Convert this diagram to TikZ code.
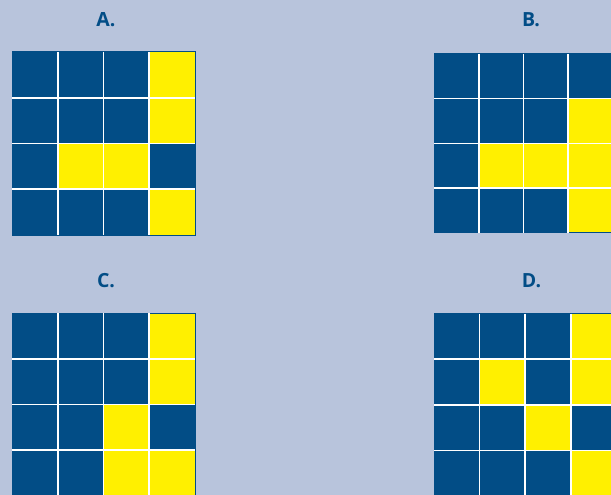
\documentclass[tikz,border=0pt]{standalone}
\usepackage{fontspec}
\setmainfont{Open Sans}
\definecolor{bg}{HTML}{B8C4DC}
\definecolor{navy}{HTML}{024D86}
\definecolor{yel}{HTML}{FFF000}
\newcommand\drawgrid[4]{%
  \fill[navy] (#1,#2) rectangle ++(4*#3,4*#3);
  \foreach \r/\c in {#4} {\fill[yel] ({#1+(\c-1)*#3},{#2+(\r-1)*#3}) rectangle ++(#3,#3);}
  \draw[navy,line width=1pt] (#1,#2) rectangle ++(4*#3,4*#3);
  \foreach \i in {1,2,3} {
    \draw[gridline] ({#1+\i*#3},#2) -- ++(0,4*#3);
    \draw[gridline] (#1,{#2+\i*#3}) -- ++(4*#3,0);
  }%
}
\tikzset{
  gridline/.style={white,line width=1.6pt},
  lab/.style={text=navy,font=\bfseries\fontsize{19.5}{19.5}\selectfont,inner sep=0pt}
}
\begin{document}
\begin{tikzpicture}[x=1pt,y=-1pt]
\useasboundingbox (0,0) rectangle (611,495);
\clip (0,0) rectangle (611,495);
\fill[bg] (0,0) rectangle (611,495);
\node[lab] (la) at (106,19.5) {A.};
\node[lab] (lb) at (531,19.5) {B.};
\node[lab] (lc) at (106,280.5) {C.};
\node[lab] (ld) at (531.5,280.5) {D.};
\drawgrid{12}{52}{45.75}{1/4,2/4,3/2,3/3,4/4}
\drawgrid{434}{54}{44.7}{2/4,3/2,3/3,3/4,4/4}
\drawgrid{12}{313}{45.75}{1/4,2/4,3/3,4/3,4/4}
\drawgrid{434}{313.5}{45.6}{1/4,2/2,2/4,3/3,4/4}
\end{tikzpicture}
\end{document}
